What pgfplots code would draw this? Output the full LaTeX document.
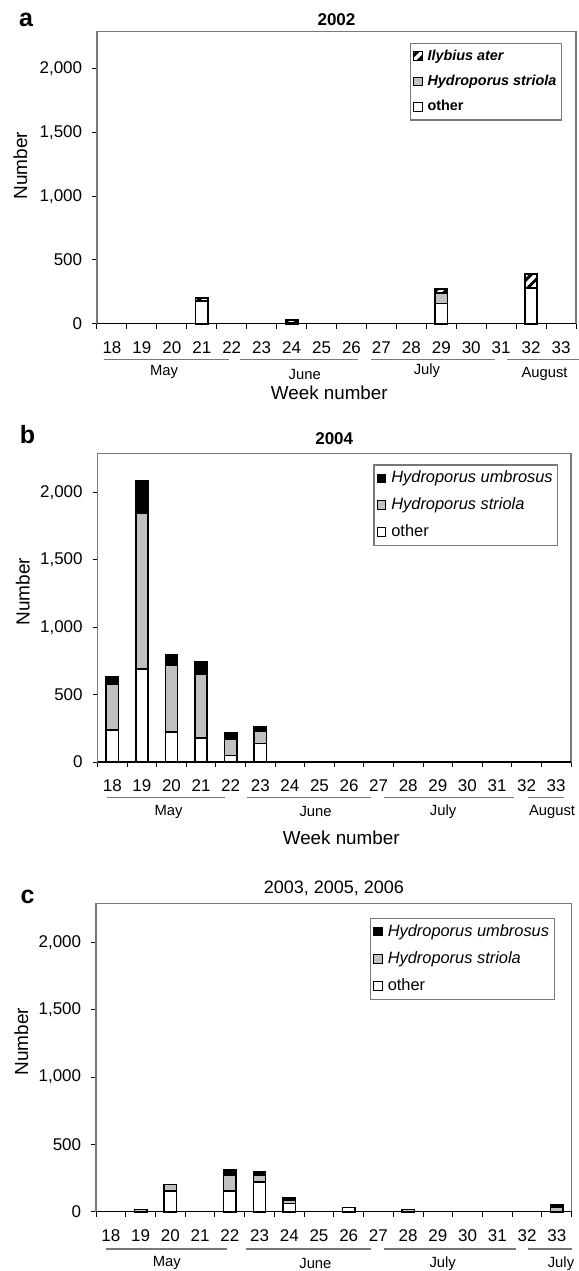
\documentclass[border=0pt]{standalone}
\usepackage{fontspec}
\setmainfont{Liberation Sans}
\usepackage{pgfplots}
\pgfplotsset{compat=1.18}
\usetikzlibrary{patterns.meta}
\definecolor{barGray}{RGB}{192,192,192}
\definecolor{frameGray}{RGB}{120,120,120}

\tikzset{monthlbl/.style={font=\fontsize{7.4}{9}\selectfont}}
\pgfplotsset{
  myaxis/.style={
    scale only axis, anchor=south west,
    xmin=17.5, xmax=33.5, ymin=0, ymax=2290,
    ybar stacked, bar width=6.15pt,
    xtick={18,...,33},
    minor xtick={17.5,18.5,...,33.5},
    ytick={0,500,1000,1500,2000},
    tick pos=left,
    tick align=outside,
    major tick length=2.5pt, minor tick length=2.5pt,
    major x tick style={draw=none},
    minor x tick style={black, line width=0.5pt},
    major y tick style={black, line width=0.5pt},
    axis line style={frameGray, line width=0.6pt},
    /pgf/number format/assume math mode=true,
    /pgf/number format/1000 sep={,},
    ticklabel style={font=\fontsize{8.5}{10}\selectfont},
    xticklabel style={yshift=-3pt},
    yticklabel style={xshift=-1.4pt},
    clip=false,
    legend cell align=left,
    reverse legend,
    legend image code/.code={\draw[##1, line width=0.5pt] (0pt,-2pt) rectangle (4.2pt,2.2pt);},
    legend style={draw=frameGray, line width=0.6pt, at={(1,1)}, anchor=north east,
      inner xsep=1.5pt, inner ysep=2pt, column sep=1.5pt,
      nodes={inner sep=1pt}},
  },
  other/.style={draw=black, fill=white, line width=0.8pt},
  striola/.style={draw=black, fill=barGray, line width=0.8pt},
  umbro/.style={draw=black, fill=black, line width=0.8pt},
  ater/.style={draw=black, pattern={Lines[angle=45,distance=3.5pt,line width=1.5pt]}, line width=0.8pt},
}

\begin{document}
\begin{tikzpicture}
\path[use as bounding box] (0,0) rectangle (289.5pt,-635.5pt);

% ---------------- panel a ----------------
\begin{axis}[myaxis, at={(48.5pt,-161.85pt)}, width=239.5pt, height=146pt,
  legend style={font=\fontsize{7.2}{8.5}\selectfont\bfseries, xshift=-7pt, yshift=-5.65pt, row sep=4pt}]
\addplot[other] coordinates {(21,180) (24,0) (29,160) (32,280)};
\addlegendentry{other}
\addplot[striola] coordinates {(21,0) (24,5) (29,80) (32,0)};
\addlegendentry{\textit{Hydroporus striola}}
\addplot[ater] coordinates {(21,22) (24,25) (29,30) (32,112)};
\addlegendentry{\textit{Ilybius ater}}
\draw[black, line width=0.6pt] (rel axis cs:0,0) -- (rel axis cs:1,0);
\node[font=\fontsize{8.5}{10}\selectfont\bfseries] at ([yshift=6.25pt]rel axis cs:0.5,1) {2002};
\draw[frameGray, line width=0.6pt] ([yshift=-17.7pt]axis cs:17.72,0) -- ([yshift=-17.7pt]axis cs:21.9,0);
\draw[frameGray, line width=0.6pt] ([yshift=-17.7pt]axis cs:22.28,0) -- ([yshift=-17.7pt]axis cs:26.23,0);
\draw[frameGray, line width=0.6pt] ([yshift=-17.7pt]axis cs:26.65,0) -- ([yshift=-17.7pt]axis cs:30.8,0);
\draw[frameGray, line width=0.6pt] ([yshift=-17.7pt]axis cs:31.2,0) -- ([yshift=-17.7pt]axis cs:33.6,0);
\node[monthlbl] at ([yshift=-24pt]axis cs:19.74,0) {May};
\node[monthlbl] at ([yshift=-25.6pt]axis cs:24.44,0) {June};
\node[monthlbl] at ([yshift=-23.7pt]axis cs:28.52,0) {July};
\node[monthlbl] at ([yshift=-25.3pt]axis cs:32.45,0) {August};
\end{axis}
\node[font=\fontsize{12.5}{14}\selectfont\bfseries] at (13pt,-10pt) {a};
\node[rotate=90, font=\fontsize{9.5}{11}\selectfont] at (10.15pt,-82.85pt) {Number};
\node[font=\fontsize{9.4}{11}\selectfont] at (164.65pt,-196.5pt) {Week number};

% ---------------- panel b ----------------
\begin{axis}[myaxis, at={(48.75pt,-381pt)}, width=236.75pt, height=154.3pt,
  legend style={font=\fontsize{8.2}{9.5}\selectfont, xshift=-6.35pt, yshift=-5.5pt, row sep=4pt}]
\addplot[other] coordinates {(18,237) (19,690) (20,224) (21,177) (22,48) (23,137)};
\addlegendentry{other}
\addplot[striola] coordinates {(18,344) (19,1154) (20,496) (21,471) (22,122) (23,95)};
\addlegendentry{\textit{Hydroporus striola}}
\addplot[umbro] coordinates {(18,54) (19,241) (20,75) (21,92) (22,47) (23,30)};
\addlegendentry{\textit{Hydroporus umbrosus}}
\draw[black, line width=0.6pt] (rel axis cs:0,0) -- (rel axis cs:1,0);
\node[font=\fontsize{8.5}{10}\selectfont\bfseries] at ([yshift=7.5pt]rel axis cs:0.5,1) {2004};
\draw[frameGray, line width=0.6pt] ([yshift=-17.7pt]axis cs:17.83,0) -- ([yshift=-17.7pt]axis cs:21.8,0);
\draw[frameGray, line width=0.6pt] ([yshift=-17.7pt]axis cs:22.56,0) -- ([yshift=-17.7pt]axis cs:26.74,0);
\draw[frameGray, line width=0.6pt] ([yshift=-17.7pt]axis cs:27.18,0) -- ([yshift=-17.7pt]axis cs:31.59,0);
\draw[frameGray, line width=0.6pt] ([yshift=-17.7pt]axis cs:32.05,0) -- ([yshift=-17.7pt]axis cs:33.28,0);
\node[monthlbl] at ([yshift=-24.8pt]axis cs:19.9,0) {May};
\node[monthlbl] at ([yshift=-24.8pt]axis cs:24.87,0) {June};
\node[monthlbl] at ([yshift=-24.8pt]axis cs:29.18,0) {July};
\node[monthlbl] at ([yshift=-24.8pt]axis cs:32.86,0) {August};
\end{axis}
\node[font=\fontsize{12.5}{14}\selectfont\bfseries] at (13.8pt,-217.5pt) {b};
\node[rotate=90, font=\fontsize{9.5}{11}\selectfont] at (11.4pt,-295.85pt) {Number};
\node[font=\fontsize{9.4}{11}\selectfont] at (170.6pt,-419pt) {Week number};

% ---------------- panel c ----------------
\begin{axis}[myaxis, at={(48pt,-605.85pt)}, width=237.85pt, height=154.2pt,
  legend style={font=\fontsize{8.2}{9.5}\selectfont, xshift=-8.5pt, yshift=-7.2pt, row sep=4.2pt}]
\addplot[other] coordinates {(19,0) (20,153) (22,153) (23,220) (24,62) (26,30) (28,0) (33,0)};
\addlegendentry{other}
\addplot[striola] coordinates {(19,15) (20,50) (22,117) (23,52) (24,20) (26,0) (28,15) (33,30)};
\addlegendentry{\textit{Hydroporus striola}}
\addplot[umbro] coordinates {(19,0) (20,0) (22,39) (23,22) (24,24) (26,0) (28,0) (33,20)};
\addlegendentry{\textit{Hydroporus umbrosus}}
\draw[black, line width=0.6pt] (rel axis cs:0,0) -- (rel axis cs:1,0);
\node[font=\fontsize{9}{11}\selectfont] at ([yshift=7.5pt]rel axis cs:0.5,1) {2003, 2005, 2006};
\draw[frameGray, line width=0.6pt] ([yshift=-18.6pt]axis cs:17.85,0) -- ([yshift=-18.6pt]axis cs:21.91,0);
\draw[frameGray, line width=0.6pt] ([yshift=-18.6pt]axis cs:22.56,0) -- ([yshift=-18.6pt]axis cs:26.74,0);
\draw[frameGray, line width=0.6pt] ([yshift=-18.6pt]axis cs:27.18,0) -- ([yshift=-18.6pt]axis cs:31.61,0);
\draw[frameGray, line width=0.6pt] ([yshift=-18.6pt]axis cs:32.04,0) -- ([yshift=-18.6pt]axis cs:33.5,0);
\node[monthlbl] at ([yshift=-25.8pt]axis cs:19.88,0) {May};
\node[monthlbl] at ([yshift=-25.8pt]axis cs:24.88,0) {June};
\node[monthlbl] at ([yshift=-25.8pt]axis cs:29.16,0) {July};
\node[monthlbl] at ([yshift=-25.8pt]axis cs:33.14,0) {July};
\end{axis}
\node[font=\fontsize{12.5}{14}\selectfont\bfseries] at (13.8pt,-448.5pt) {c};
\node[rotate=90, font=\fontsize{9.5}{11}\selectfont] at (10.7pt,-520.85pt) {Number};
\end{tikzpicture}
\end{document}
